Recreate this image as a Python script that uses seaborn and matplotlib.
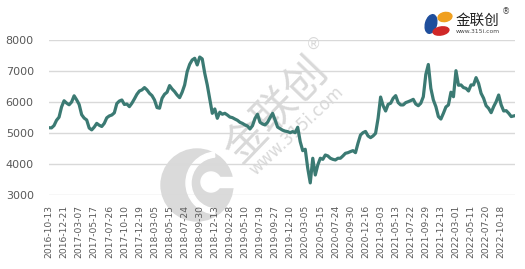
import matplotlib
matplotlib.use("Agg")
import matplotlib.pyplot as plt
import matplotlib.patches as mpatches
import matplotlib.transforms as mtransforms
import seaborn as sns
import pandas as pd
import numpy as np

# ---- data ----
tick_labels = ["2016-10-13", "2016-12-21", "2017-03-07", "2017-05-17", "2017-07-26",
               "2017-10-10", "2017-12-19", "2018-03-05", "2018-05-15", "2018-07-24",
               "2018-09-30", "2018-12-13", "2019-02-28", "2019-05-10", "2019-07-19",
               "2019-09-27", "2019-12-10", "2020-03-05", "2020-05-15", "2020-07-24",
               "2020-09-30", "2020-12-16", "2021-03-03", "2021-05-13", "2021-07-22",
               "2021-09-29", "2021-12-13", "2022-03-01", "2022-05-11", "2022-07-20",
               "2022-10-18"]
points_per_label = 6

prices = [
    5180, 5175, 5250, 5420, 5520, 5850, 6050, 5975, 5920, 6010,
    6210, 6080, 5930, 5600, 5490, 5430, 5170, 5110, 5200, 5320,
    5260, 5220, 5320, 5500, 5560, 5590, 5660, 5960, 6040, 6075,
    5930, 5945, 5860, 5970, 6110, 6260, 6365, 6400, 6475, 6400,
    6290, 6215, 6075, 5830, 5810, 6130, 6260, 6325, 6540, 6430,
    6345, 6235, 6150, 6325, 6560, 6990, 7225, 7365, 7420, 7205,
    7460, 7400, 6935, 6560, 6105, 5645, 5785, 5485, 5680, 5615,
    5645, 5590, 5525, 5505, 5460, 5420, 5355, 5320, 5270, 5235,
    5140, 5245, 5480, 5615, 5355, 5300, 5270, 5355, 5505, 5645,
    5430, 5200, 5150, 5100, 5070, 5055, 5020, 5055, 5020, 5195,
    4730, 4440, 4485, 3870, 3400, 4195, 3655, 3980, 4195, 4160,
    4300, 4270, 4195, 4160, 4140, 4195, 4195, 4270, 4355, 4375,
    4410, 4440, 4375, 4680, 4945, 5020, 5060, 4915, 4860, 4915,
    5000, 5485, 6170, 5890, 5720, 5935, 5970, 6130, 6215, 5990,
    5915, 5915, 5990, 6020, 6055, 6095, 5945, 5890, 5970, 6180,
    6900, 7220, 6450, 6075, 5860, 5540, 5460, 5645, 5850, 5915,
    6325, 6180, 7020, 6550, 6560, 6475, 6450, 6365, 6560, 6560,
    6795, 6610, 6290, 6130, 5890, 5805, 5665, 5860, 6020, 6235,
    5915, 5720, 5730, 5645, 5540, 5560,
]

df = pd.DataFrame({"idx": np.arange(len(prices)), "price": prices})

W, H = 525, 269
fig = plt.figure(figsize=(W / 100, H / 100), dpi=100)
fig.patch.set_facecolor("white")
PX = mtransforms.IdentityTransform()


def fx(x):
    return x / W


def fy(y):
    return 1 - y / H


def add_px_patch(p):
    p.set_transform(PX)
    fig.patches.append(p)


ax = fig.add_axes([fx(49), fy(195.3), fx(515) - fx(49), fy(40.3) - fy(195.3)])
ax.set_facecolor("none")
ax.set_zorder(1)

# ---- watermark (behind everything) ----
wm = "#d9d9d9"
fig.text(fx(276), fy(110), "金联创", rotation=46, fontsize=31, color=wm,
         family=["Noto Sans CJK SC", "DejaVu Sans"], ha="center", va="center", zorder=-1)
fig.text(fx(296), fy(131), "www.315i.com", rotation=43, fontsize=12, color=wm,
         ha="center", va="center", zorder=-1)
fig.text(fx(314), fy(44), "®", fontsize=11, color=wm, ha="center", va="center", zorder=-1)

# gray logo mark: disc with white cut-outs
cx, cy = 197, 185
add_px_patch(mpatches.Circle((cx, H - cy), 36, color="#dadada", zorder=-1))
add_px_patch(mpatches.Wedge((cx + 20, H - cy + 2), 31, 95, 265, width=5,
                            color="white", zorder=-1))
add_px_patch(mpatches.Circle((cx + 14, H - cy + 3), 10, color="white", zorder=-1))
add_px_patch(mpatches.Rectangle((cx + 14, H - cy - 2), 28, 10, color="white", zorder=-1))

sns.lineplot(data=df, x="idx", y="price", ax=ax, color="#3b7a73", linewidth=2.3,
             zorder=3)

ax.set_xlim(0, 185.5)
ax.set_ylim(3000, 8000)
ax.set_yticks([3000, 4000, 5000, 6000, 7000, 8000])
ax.set_yticklabels(["3000", "4000", "5000", "6000", "7000", "8000"])
ax.set_xticks(np.arange(len(tick_labels)) * points_per_label)
ax.set_xticklabels(tick_labels, rotation=90)
ax.tick_params(axis="x", length=0, pad=7, labelsize=6.6, labelcolor="#595959")
ax.tick_params(axis="y", length=0, pad=11, labelsize=8, labelcolor="#595959")
ax.grid(axis="y", color="#d9d9d9", linewidth=1.0, zorder=0)
ax.grid(axis="x", visible=False)
ax.set_axisbelow(True)
for s in ax.spines.values():
    s.set_visible(False)
ax.set_xlabel("")
ax.set_ylabel("")

# ---- top-right logo ----
add_px_patch(mpatches.Ellipse((431, H - 24), 11, 19, angle=-15, color="#1f4e9c", zorder=5))
add_px_patch(mpatches.Ellipse((445, H - 17), 14, 9, angle=10, color="#f0a020", zorder=5))
add_px_patch(mpatches.Ellipse((441, H - 31), 16, 8, angle=10, color="#d02828", zorder=5))
fig.text(fx(478), fy(21), "金联创", fontsize=10.5, color="#222222",
         family=["Noto Sans CJK SC", "DejaVu Sans"], ha="center", va="center", zorder=5)
fig.text(fx(478), fy(31.5), "www.315i.com", fontsize=4.3, color="#444444",
         ha="center", va="center", zorder=5)
fig.text(fx(506), fy(12), "®", fontsize=6, color="#444444", ha="center", va="center",
         zorder=5)

fig.savefig("out.png", dpi=100, facecolor="white")
